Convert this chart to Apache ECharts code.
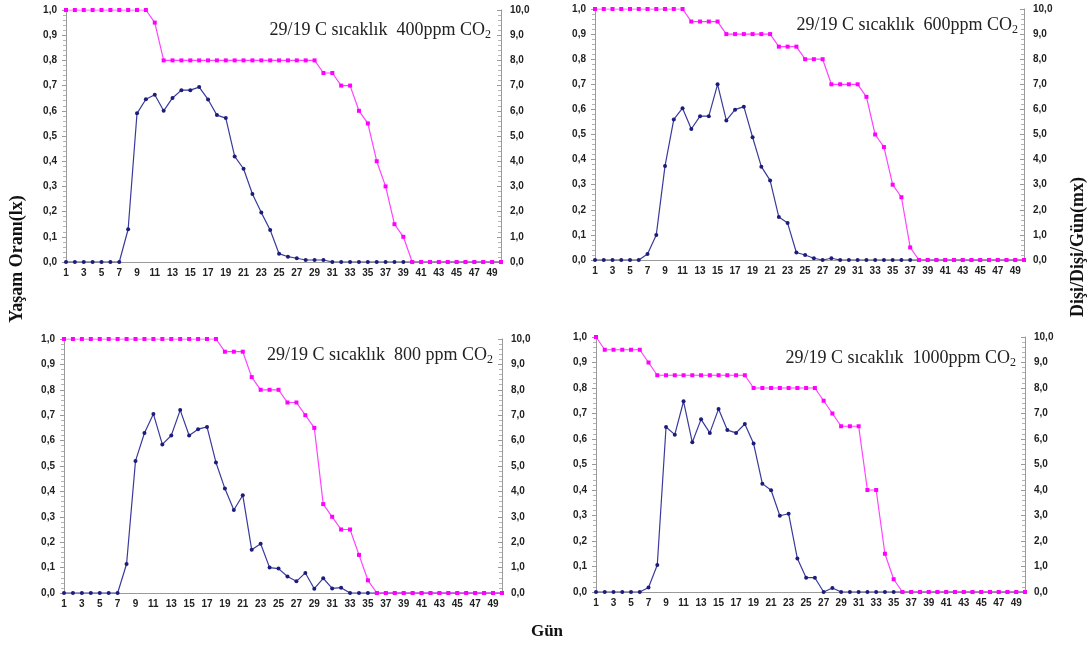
<!DOCTYPE html>
<html><head><meta charset="utf-8">
<script src="https://cdn.jsdelivr.net/npm/echarts@6/dist/echarts.min.js"></script>
<style>html,body{margin:0;padding:0;background:#fff}#c{width:1089px;height:645px}</style>
</head><body><div id="c"></div>
<script>
const days = ['1','2','3','4','5','6','7','8','9','10','11','12','13','14','15','16','17','18','19','20','21','22','23','24','25','26','27','28','29','30','31','32','33','34','35','36','37','38','39','40','41','42','43','44','45','46','47','48','49','50'];

const titles = ['400ppm', '600ppm', '800 ppm', '1000ppm'];

const lx400 = [1,1,1,1,1,1,1,1,1,1,0.95,0.8,0.8,0.8,0.8,0.8,0.8,0.8,0.8,0.8,0.8,0.8,0.8,0.8,0.8,0.8,0.8,0.8,0.8,0.75,0.75,0.7,0.7,0.6,0.55,0.4,0.3,0.15,0.1,0,0,0,0,0,0,0,0,0,0,0];
const mx400 = [0,0,0,0,0,0,0,1.3,5.9,6.46,6.64,6.0,6.51,6.82,6.82,6.94,6.45,5.83,5.71,4.19,3.7,2.7,1.96,1.27,0.33,0.21,0.15,0.08,0.08,0.08,0,0,0,0,0,0,0,0,0,0,0,0,0,0,0,0,0,0,0,0];

const lx600 = [1,1,1,1,1,1,1,1,1,1,1,0.95,0.95,0.95,0.95,0.9,0.9,0.9,0.9,0.9,0.9,0.85,0.85,0.85,0.8,0.8,0.8,0.7,0.7,0.7,0.7,0.65,0.5,0.45,0.3,0.25,0.05,0,0,0,0,0,0,0,0,0,0,0,0,0];
const mx600 = [0,0,0,0,0,0,0.24,1.0,3.75,5.6,6.05,5.22,5.73,5.73,7.0,5.56,5.99,6.11,4.89,3.72,3.17,1.71,1.47,0.3,0.2,0.07,0,0.07,0,0,0,0,0,0,0,0,0,0,0,0,0,0,0,0,0,0,0,0,0,0];

const lx800 = [1,1,1,1,1,1,1,1,1,1,1,1,1,1,1,1,1,1,0.95,0.95,0.95,0.85,0.8,0.8,0.8,0.75,0.75,0.7,0.65,0.35,0.3,0.25,0.25,0.15,0.05,0,0,0,0,0,0,0,0,0,0,0,0,0,0,0];
const mx800 = [0,0,0,0,0,0,0,1.14,5.2,6.3,7.05,5.85,6.2,7.2,6.2,6.45,6.54,5.14,4.11,3.27,3.85,1.7,1.94,1.0,0.96,0.65,0.46,0.79,0.17,0.58,0.18,0.21,0,0,0,0,0,0,0,0,0,0,0,0,0,0,0,0,0,0];

const lx1000 = [1,0.95,0.95,0.95,0.95,0.95,0.9,0.85,0.85,0.85,0.85,0.85,0.85,0.85,0.85,0.85,0.85,0.85,0.8,0.8,0.8,0.8,0.8,0.8,0.8,0.8,0.75,0.7,0.65,0.65,0.65,0.4,0.4,0.15,0.05,0,0,0,0,0,0,0,0,0,0,0,0,0,0,0];
const mx1000 = [0,0,0,0,0,0,0.18,1.06,6.47,6.17,7.48,5.87,6.77,6.24,7.18,6.35,6.24,6.59,5.82,4.25,3.99,2.99,3.07,1.31,0.56,0.56,0,0.16,0,0,0,0,0,0,0,0,0,0,0,0,0,0,0,0,0,0,0,0,0,0];

const lxAll = [lx400, lx600, lx800, lx1000];
const mxAll = [mx400, mx600, mx800, mx1000];

const grids = [
  {left: 66, top: 10, width: 435, height: 252},
  {left: 595, top: 9, width: 429, height: 251},
  {left: 64, top: 339, width: 438, height: 254},
  {left: 596, top: 337, width: 429, height: 255}
];
const titlePos = [[491, 30], [1018, 25], [493, 355], [1016, 358]];

const lblFont = {fontFamily: 'Liberation Sans, Arial, sans-serif', fontWeight: 'bold', fontSize: 10, color: '#222'};
const axisGray = '#9a9a9a';
const fmt = v => v.toFixed(1).replace('.', ',');

const option = {
  animation: false,
  backgroundColor: '#fff',
  grid: grids,
  xAxis: [], yAxis: [], series: [],
  graphic: []
};

for (let i = 0; i < 4; i++) {
  option.xAxis.push({
    type: 'category', gridIndex: i, data: days, boundaryGap: false,
    axisLine: {lineStyle: {color: axisGray}},
    axisTick: {show: false},
    axisLabel: Object.assign({interval: 1, margin: 6}, lblFont),
    splitLine: {show: false}
  });
  option.yAxis.push({
    type: 'value', gridIndex: i, min: 0, max: 1, interval: 0.1, position: 'left',
    axisLine: {show: true, lineStyle: {color: axisGray}},
    axisTick: {show: true, length: 4, lineStyle: {color: axisGray}},
    minorTick: {show: true, splitNumber: 5, length: 3, lineStyle: {color: '#b5b5b5'}},
    axisLabel: Object.assign({formatter: fmt, margin: 9}, lblFont),
    splitLine: {show: false}
  });
  option.yAxis.push({
    type: 'value', gridIndex: i, min: 0, max: 10, interval: 1, position: 'right',
    axisLine: {show: true, lineStyle: {color: axisGray}},
    axisTick: {show: true, length: 4, inside: true, lineStyle: {color: axisGray}},
    minorTick: {show: true, splitNumber: 5, length: 3, lineStyle: {color: '#b5b5b5'}},
    axisLabel: Object.assign({formatter: fmt, margin: 9}, lblFont),
    splitLine: {show: false}
  });
  option.series.push({
    type: 'line', name: 'mx', xAxisIndex: i, yAxisIndex: 2 * i + 1, data: mxAll[i],
    symbol: 'circle', symbolSize: 4, z: 2,
    lineStyle: {color: '#3a3a9c', width: 1.2},
    itemStyle: {color: '#1c1c7a'}
  });
  option.series.push({
    type: 'line', name: 'lx', xAxisIndex: i, yAxisIndex: 2 * i, data: lxAll[i],
    symbol: 'rect', symbolSize: 4, z: 3,
    lineStyle: {color: '#ff44ff', width: 1.2},
    itemStyle: {color: '#ff00ff'}
  });
  option.graphic.push({
    type: 'text', x: titlePos[i][0], y: titlePos[i][1],
    style: {
      text: '{a|29/19 C sıcaklık  ' + titles[i] + ' CO}{s|2}',
      align: 'right', verticalAlign: 'middle',
      rich: {
        a: {fontFamily: 'Liberation Serif, Times New Roman, serif', fontSize: 18, fill: '#222'},
        s: {fontFamily: 'Liberation Serif, Times New Roman, serif', fontSize: 12, fill: '#222', padding: [10, 0, 0, 0]}
      }
    }
  });
}

const axTitle = {fontFamily: 'Liberation Serif, Times New Roman, serif', fontWeight: 'bold', fontSize: 18, fill: '#111'};
option.graphic.push({
  type: 'text', x: 17, y: 259, rotation: Math.PI / 2,
  style: Object.assign({text: 'Yaşam Oranı(lx)', align: 'center', verticalAlign: 'middle'}, axTitle)
});
option.graphic.push({
  type: 'text', x: 1078, y: 247, rotation: Math.PI / 2,
  style: Object.assign({text: 'Dişi/Dişi/Gün(mx)', align: 'center', verticalAlign: 'middle'}, axTitle)
});
option.graphic.push({
  type: 'text', x: 547, y: 632,
  style: Object.assign({text: 'Gün', align: 'center', verticalAlign: 'middle'}, axTitle, {fontSize: 17})
});

const chart = echarts.init(document.getElementById('c'), null, {renderer: 'canvas'});
chart.setOption(option);
</script>
</body></html>
